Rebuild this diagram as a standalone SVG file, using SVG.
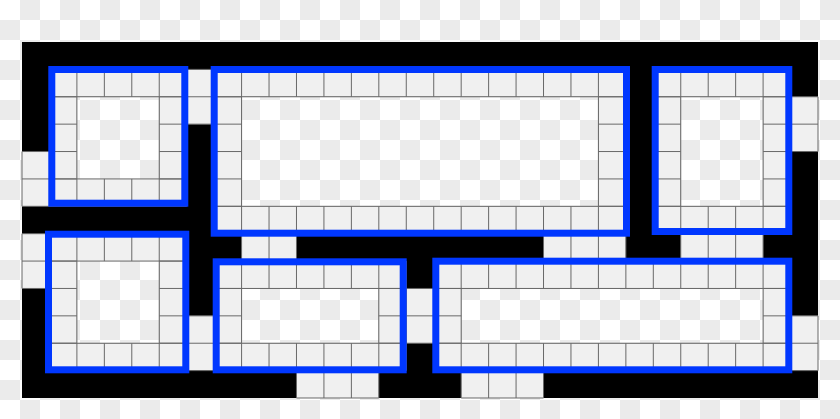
<svg xmlns="http://www.w3.org/2000/svg" width="840" height="419" viewBox="0 0 840 419">
<style>
.grid path{vector-effect:non-scaling-stroke}
.cells{fill:#f0f0f0;stroke:#686868;stroke-width:1}
.frame{fill:none;stroke:#0037ff;stroke-width:7}
</style>
<defs>
<pattern id="chk" width="40" height="40" patternUnits="userSpaceOnUse">
<rect width="40" height="40" fill="#ffffff"/>
<rect x="20" width="20" height="20" fill="#ebebeb"/>
<rect y="20" width="20" height="20" fill="#ebebeb"/>
</pattern>
</defs>
<rect id="background" width="840" height="419" fill="url(#chk)"/>
<g class="grid" transform="translate(22 42) scale(27.4483 27.3846)">
<path id="board" fill="#000" fill-rule="evenodd" d="M0 0h29v13h-29z M2 2h3v3h-3z M8 2h13v4h-13z M24 2h3v4h-3z M2 8h3v3h-3z M8 9h5v2h-5z M16 9h11v2h-11z"/>
<path id="cells-a" class="cells" d="M1 1h5v1h-5z M2 1v1M3 1v1M4 1v1M5 1v1 M1 5h5v1h-5z M2 5v1M3 5v1M4 5v1M5 5v1 M1 2h1v3h-1z M1 3h1M1 4h1 M5 2h1v3h-1z M5 3h1M5 4h1"/>
<path id="cells-b" class="cells" d="M7 1h15v1h-15z M8 1v1M9 1v1M10 1v1M11 1v1M12 1v1M13 1v1M14 1v1M15 1v1M16 1v1M17 1v1M18 1v1M19 1v1M20 1v1M21 1v1 M7 6h15v1h-15z M8 6v1M9 6v1M10 6v1M11 6v1M12 6v1M13 6v1M14 6v1M15 6v1M16 6v1M17 6v1M18 6v1M19 6v1M20 6v1M21 6v1 M7 2h1v4h-1z M7 3h1M7 4h1M7 5h1 M21 2h1v4h-1z M21 3h1M21 4h1M21 5h1"/>
<path id="cells-c" class="cells" d="M23 1h5v1h-5z M24 1v1M25 1v1M26 1v1M27 1v1 M23 6h5v1h-5z M24 6v1M25 6v1M26 6v1M27 6v1 M23 2h1v4h-1z M23 3h1M23 4h1M23 5h1 M27 2h1v4h-1z M27 3h1M27 4h1M27 5h1"/>
<path id="cells-d" class="cells" d="M1 7h5v1h-5z M2 7v1M3 7v1M4 7v1M5 7v1 M1 11h5v1h-5z M2 11v1M3 11v1M4 11v1M5 11v1 M1 8h1v3h-1z M1 9h1M1 10h1 M5 8h1v3h-1z M5 9h1M5 10h1"/>
<path id="cells-e" class="cells" d="M7 8h7v1h-7z M8 8v1M9 8v1M10 8v1M11 8v1M12 8v1M13 8v1 M7 11h7v1h-7z M8 11v1M9 11v1M10 11v1M11 11v1M12 11v1M13 11v1 M7 9h1v2h-1z M7 10h1 M13 9h1v2h-1z M13 10h1"/>
<path id="cells-f" class="cells" d="M15 8h13v1h-13z M16 8v1M17 8v1M18 8v1M19 8v1M20 8v1M21 8v1M22 8v1M23 8v1M24 8v1M25 8v1M26 8v1M27 8v1 M15 11h13v1h-13z M16 11v1M17 11v1M18 11v1M19 11v1M20 11v1M21 11v1M22 11v1M23 11v1M24 11v1M25 11v1M26 11v1M27 11v1 M15 9h1v2h-1z M15 10h1 M27 9h1v2h-1z M27 10h1"/>
<path id="cells-loose" class="cells" d="M0 4h1v2h-1z M0 5h1 M0 7h1v2h-1z M0 8h1 M6 1h1v2h-1z M6 2h1 M6 10h1v2h-1z M6 11h1 M28 2h1v2h-1z M28 3h1 M28 10h1v2h-1z M28 11h1 M8 7h2v1h-2z M9 7v1 M19 7h3v1h-3z M20 7v1M21 7v1 M24 7h3v1h-3z M25 7v1M26 7v1 M14 9h1v2h-1z M14 10h1 M10 12h3v1h-3z M11 12v1M12 12v1 M16 12h3v1h-3z M17 12v1M18 12v1"/>
</g>
<g id="frames">
<rect id="frame-a" class="frame" x="51.8" y="69.5" width="133" height="133.7"/>
<rect id="frame-b" class="frame" x="214.2" y="69.5" width="412.3" height="163.7"/>
<rect id="frame-c" class="frame" x="655.2" y="69.5" width="133.6" height="162"/>
<rect id="frame-d" class="frame" x="48.5" y="234.2" width="137.3" height="135.6"/>
<rect id="frame-e" class="frame" x="216.2" y="261.8" width="187" height="108"/>
<rect id="frame-f" class="frame" x="435.8" y="261.2" width="353" height="108.6"/>
</g>
</svg>
